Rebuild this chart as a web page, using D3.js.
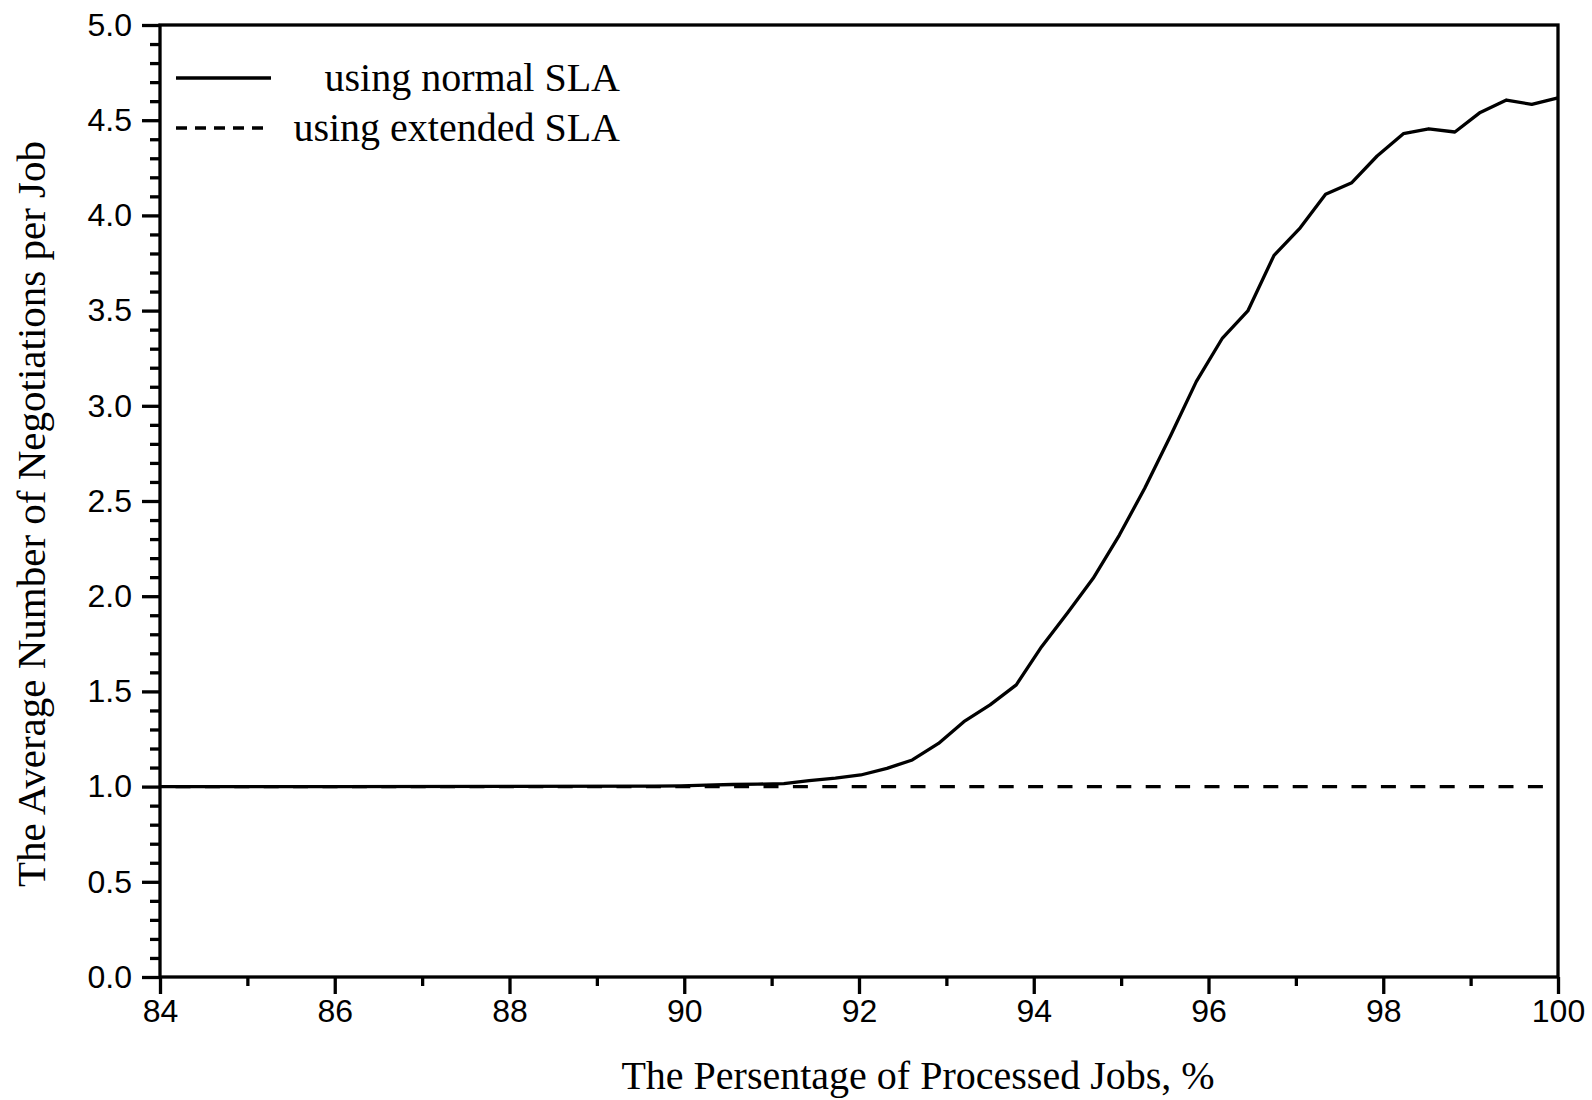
<!DOCTYPE html>
<html>
<head>
<meta charset="utf-8">
<script src="https://cdn.jsdelivr.net/npm/d3@7"></script>
<style>
  body { margin: 0; background: #fff; }
  svg { display: block; }
</style>
</head>
<body>
<div class="chartContainer"></div>
<script>
// data
let jobsPct = [84.0, 86.0, 88.0, 89.66, 89.96, 90.25, 90.55, 90.84, 91.14, 91.43, 91.73, 92.02, 92.32, 92.61, 92.91, 93.20, 93.50, 93.80, 94.09, 94.39, 94.68, 94.98, 95.27, 95.57, 95.86, 96.16, 96.45, 96.75, 97.05, 97.34, 97.64, 97.93, 98.23, 98.52, 98.82, 99.11, 99.41, 99.70, 100.0]
let normalSLA = [1.0, 1.0, 1.001, 1.002, 1.004, 1.008, 1.011, 1.013, 1.016, 1.031, 1.044, 1.061, 1.096, 1.140, 1.227, 1.341, 1.429, 1.534, 1.735, 1.915, 2.094, 2.321, 2.567, 2.847, 3.127, 3.356, 3.498, 3.790, 3.935, 4.111, 4.172, 4.312, 4.429, 4.455, 4.438, 4.541, 4.606, 4.583, 4.617]
let extJobsPct = [84, 100]
let extendedSLA = [1.0, 1.0]

let xTicks = [84, 86, 88, 90, 92, 94, 96, 98, 100]
let xMinor = [85, 87, 89, 91, 93, 95, 97, 99]
let yTicks = [0.0, 0.5, 1.0, 1.5, 2.0, 2.5, 3.0, 3.5, 4.0, 4.5, 5.0]
let yMinor = d3.range(0, 51).filter(d => d % 5 != 0).map(d => d / 10)

let legendLabels = ['using normal SLA', 'using extended SLA']

const W = 1592, H = 1100
let margin = {top: 25, right: 34, bottom: 123, left: 160}
const LW = 3.3 // stroke width used everywhere

var svg = d3.select('.chartContainer').append('svg')
    .attr('width', W)
    .attr('height', H)
    .attr('viewBox', [0, 0, W, H])

var x = d3.scaleLinear().domain([84, 100]).range([margin.left, W - margin.right])
var y = d3.scaleLinear().domain([0, 5]).range([H - margin.bottom, margin.top])

const sans = '"Liberation Sans", Arial, sans-serif'
const serif = '"Liberation Serif", "Times New Roman", serif'

// minor ticks first, majors on top
svg.append('g')
    .attr('transform', 'translate(0,' + y(0) + ')')
    .call(d3.axisBottom(x).tickValues(xMinor).tickSize(9).tickFormat(''))
svg.append('g')
    .attr('transform', 'translate(' + x(84) + ',0)')
    .call(d3.axisLeft(y).tickValues(yMinor).tickSize(10).tickFormat(''))

var xAxis = svg.append('g')
    .attr('transform', 'translate(0,' + y(0) + ')')
    .call(d3.axisBottom(x).tickValues(xTicks).tickSize(17).tickSizeOuter(0).tickPadding(5).tickFormat(d3.format('d')))

var yAxis = svg.append('g')
    .attr('transform', 'translate(' + x(84) + ',0)')
    .call(d3.axisLeft(y).tickValues(yTicks).tickSize(18).tickSizeOuter(0).tickPadding(10).tickFormat(d3.format('.1f')))

svg.selectAll('.domain').remove()
svg.selectAll('.tick line').attr('stroke', '#000').attr('stroke-width', LW)
svg.selectAll('.tick text')
    .attr('fill', '#000')
    .style('font-family', sans)
    .style('font-size', '32px')

// box round the plot
svg.append('rect')
    .attr('x', x(84))
    .attr('y', y(5))
    .attr('width', x(100) - x(84))
    .attr('height', y(0) - y(5))
    .attr('fill', 'none')
    .attr('stroke', '#000')
    .attr('stroke-width', LW)

var line = d3.line()
    .x(d => x(d[0]))
    .y(d => y(d[1]))

svg.append('path')
    .datum(d3.zip(extJobsPct, extendedSLA))
    .attr('d', line)
    .attr('fill', 'none')
    .attr('stroke', '#000')
    .attr('stroke-width', LW)
    .attr('stroke-dasharray', '15,14.4')
    .attr('stroke-dashoffset', 13.9)

svg.append('path')
    .datum(d3.zip(jobsPct, normalSLA))
    .attr('d', line)
    .attr('fill', 'none')
    .attr('stroke', '#000')
    .attr('stroke-width', LW)
    .attr('stroke-linejoin', 'round')

// legend
var leg = svg.append('g')
leg.selectAll('line')
    .data(legendLabels)
    .enter()
    .append('line')
    .attr('x1', 176)
    .attr('x2', 271)
    .attr('y1', (d, i) => 78 + i * 50)
    .attr('y2', (d, i) => 78 + i * 50)
    .attr('stroke', '#000')
    .attr('stroke-width', LW)
    .attr('stroke-dasharray', (d, i) => i == 1 ? '11,8' : null)

leg.selectAll('text')
    .data(legendLabels)
    .enter()
    .append('text')
    .attr('x', 620)
    .attr('y', (d, i) => 91 + i * 50)
    .attr('text-anchor', 'end')
    .style('font-family', serif)
    .style('font-size', '40px')
    .text(d => d)

// axis titles
svg.append('text')
    .attr('x', 918)
    .attr('y', 1089)
    .attr('text-anchor', 'middle')
    .style('font-family', serif)
    .style('font-size', '40px')
    .text('The Persentage of Processed Jobs, %')

svg.append('text')
    .attr('transform', 'translate(45,514) rotate(-90)')
    .attr('text-anchor', 'middle')
    .style('font-family', serif)
    .style('font-size', '41px')
    .text('The Average Number of Negotiations per Job')
</script>
</body>
</html>
